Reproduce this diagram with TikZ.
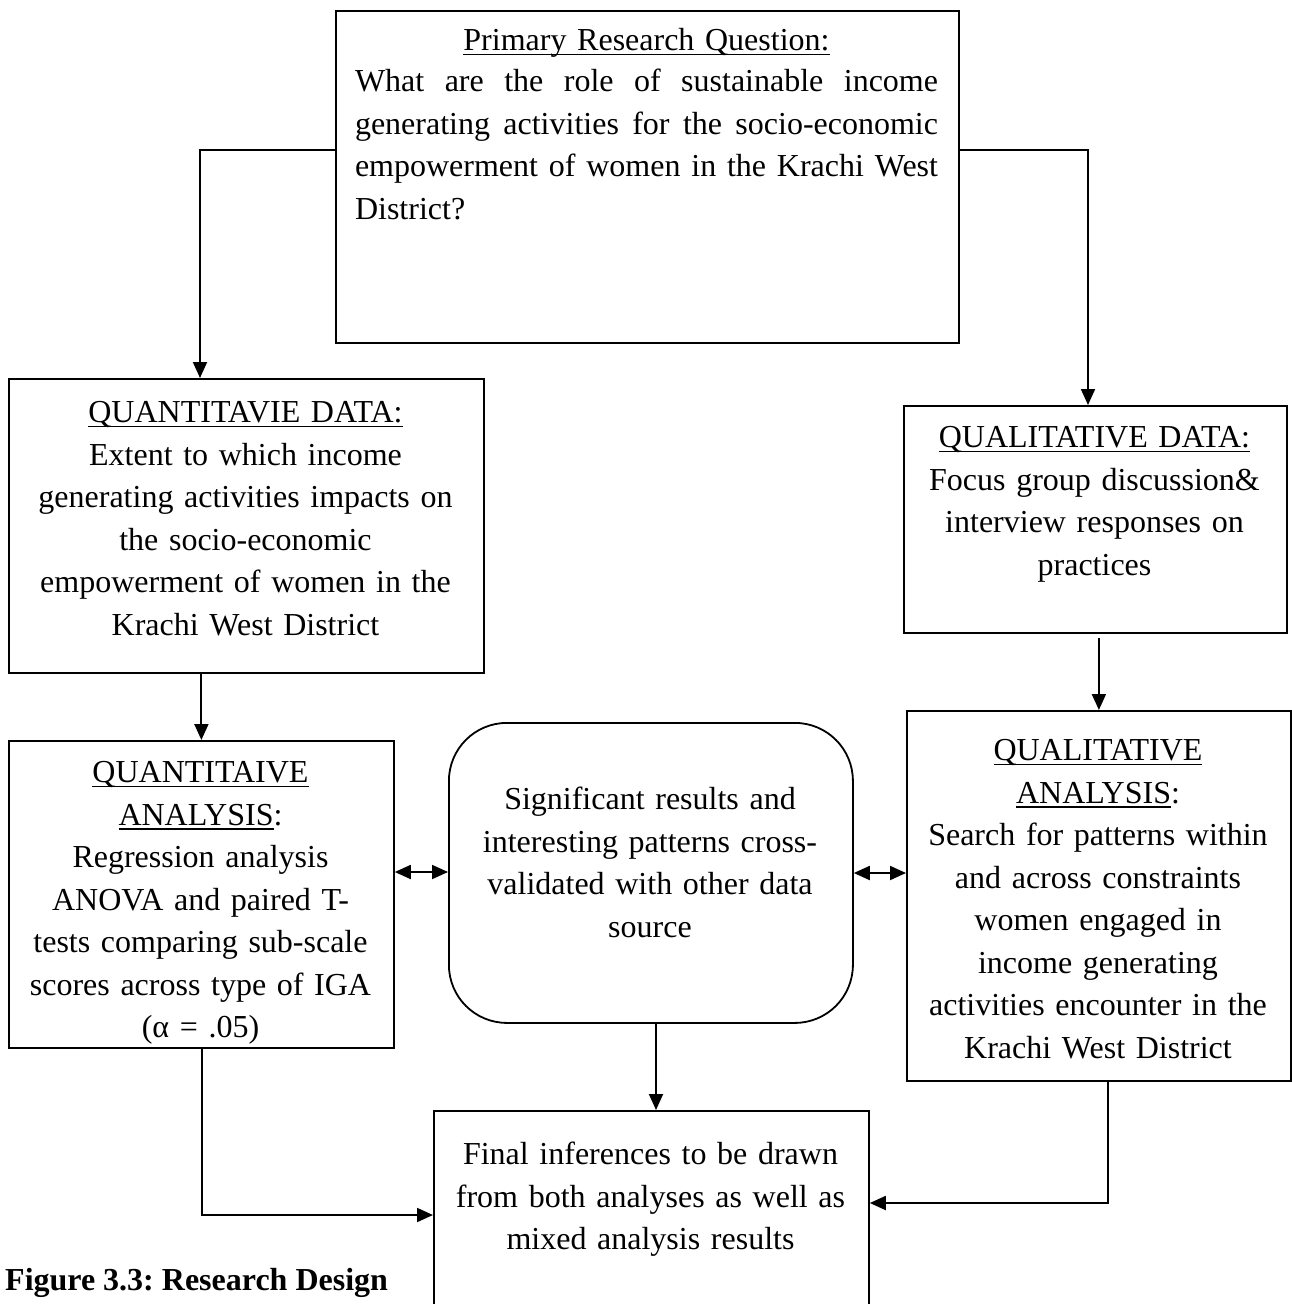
\documentclass[tikz,border=0pt]{standalone}
\usepackage{fontspec}
\setmainfont{Liberation Serif}
\frenchspacing
\newcommand\ulx[1]{\leavevmode\begingroup\setbox0=\hbox{#1}\rlap{\vrule height -2.9pt depth 4.5pt width \wd0}\box0\endgroup}
\newcommand\bodyfont{\fontsize{32}{42.5}\selectfont\frenchspacing\hyphenpenalty=10000 \exhyphenpenalty=10000 }
\newcommand\capfont{\fontsize{32}{42.5}\selectfont\bfseries\frenchspacing}
\usetikzlibrary{arrows.meta,calc}
\tikzset{
  box/.style={draw, line width=1.8pt, rectangle, inner sep=0pt, anchor=north west},
  txt/.style={inner sep=0pt, anchor=north, align=center, font=\bodyfont},
  conn/.style={line width=1.9pt, -{Triangle[length=16pt,width=14pt]}},
  dconn/.style={line width=1.9pt, {Triangle[length=16pt,width=14pt]}-{Triangle[length=16pt,width=14pt]}}
}
\begin{document}
\begin{tikzpicture}[x=1pt,y=-1pt]
\useasboundingbox (0,0) rectangle (1292,1304);
\clip (0,0) rectangle (1292,1304);

% boxes
\node[box, minimum width=623pt, minimum height=332pt] (top) at (335,10) {};
\node[box, minimum width=475pt, minimum height=294pt] (qd) at (8,378) {};
\node[box, minimum width=383pt, minimum height=227pt] (qld) at (903,405) {};
\node[box, minimum width=385pt, minimum height=307pt] (qa) at (8,740) {};
\node[box, rounded corners=58pt, minimum width=404pt, minimum height=300pt] (mid) at (448,722) {};
\node[box, minimum width=384pt, minimum height=370pt] (qla) at (906,710) {};
\node[box, minimum width=435pt, minimum height=210pt] (fin) at (433,1110) {};

% texts
\node[txt, text width=583pt] (toptitle) at (646.5,21) {\strut\ulx{Primary Research Question:}};
\node[txt, text width=583pt, align=justify] (topq) at (646.5,62)
 {\strut What are the role of sustainable income\linebreak
  generating activities for the socio-economic\linebreak
  empowerment of women in the Krachi West\linebreak
  District?};

\node[txt, text width=470pt] (qdt) at (245.5,393)
 {\strut\ulx{QUANTITAVIE DATA:}\\
  Extent to which income\\
  generating activities impacts on\\
  the socio-economic\\
  empowerment of women in the\\
  Krachi West District};

\node[txt, text width=375pt] (qldt) at (1094.5,418)
 {\strut\ulx{QUALITATIVE DATA:}\\
  Focus group discussion\&\\
  interview responses on\\
  practices};

\node[txt, text width=380pt] (qat) at (200.5,753)
 {\strut\ulx{QUANTITAIVE}\\
  \ulx{ANALYSIS}:\\
  Regression analysis\\
  ANOVA and paired T-\\
  tests comparing sub-scale\\
  scores across type of IGA\\
  (α = .05)};

\node[txt, text width=395pt] (midt) at (650,780)
 {\strut Significant results and\\
  interesting patterns cross-\\
  validated with other data\\
  source};

\node[txt, text width=380pt] (qlat) at (1098,731)
 {\strut\ulx{QUALITATIVE}\\
  \ulx{ANALYSIS}:\\
  Search for patterns within\\
  and across constraints\\
  women engaged in\\
  income generating\\
  activities encounter in the\\
  Krachi West District};

\node[txt, text width=430pt] (fint) at (650.5,1135)
 {\strut Final inferences to be drawn\\
  from both analyses as well as\\
  mixed analysis results};

\node[inner sep=0pt, anchor=base west, font=\capfont] (cap) at (5,1290)
 {Figure 3.3: Research Design};

% connectors
\draw[conn] (top.west |- 0,150) -| (qd.north -| 200,0);
\draw[conn] (top.east |- 0,150) -| (qld.north -| 1088,0);
\draw[conn] (qd.south -| qa.north) -- (qa.north);
\draw[conn] ($(qld.south -| qla.north)+(0,4)$) -- (qla.north);
\draw[dconn] (qa.east |- 0,872) -- (mid.west |- 0,872);
\draw[dconn] (mid.east |- 0,873) -- (qla.west |- 0,873);
\draw[conn] (mid.south -| 656,0) -- (fin.north -| 656,0);
\draw[conn] (qa.south -| 202,0) |- (fin.west |- 0,1215);
\draw[conn] (qla.south -| 1108,0) |- (fin.east |- 0,1203);
\end{tikzpicture}
\end{document}
